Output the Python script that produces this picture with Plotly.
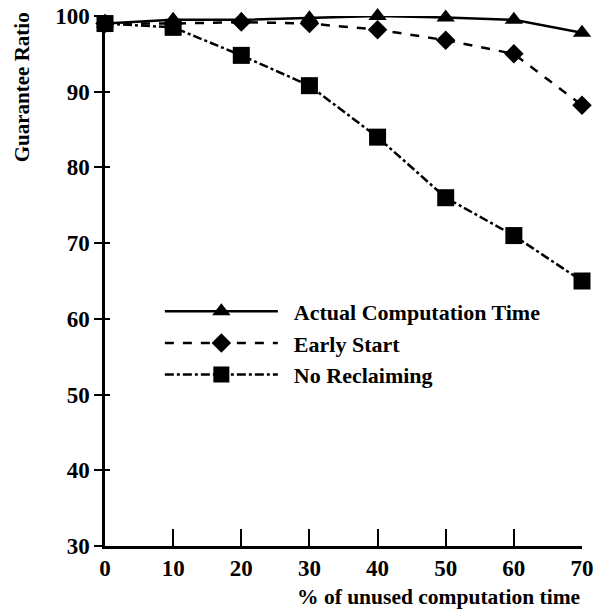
import plotly.graph_objects as go

x_vals = [0, 10, 20, 30, 40, 50, 60, 70]
actual = [99.0, 99.5, 99.5, 99.7, 100.0, 99.8, 99.5, 97.8]
early = [99.0, 99.0, 99.2, 99.0, 98.2, 96.8, 95.0, 88.2]
noreclaim = [99.0, 98.5, 94.8, 90.8, 84.0, 76.0, 71.0, 65.0]
series_names = ["Actual Computation Time", "Early Start", "No Reclaiming"]
x_ticks = [0, 10, 20, 30, 40, 50, 60, 70]
y_ticks = [30, 40, 50, 60, 70, 80, 90, 100]

FONT = "Liberation Serif"
fig = go.Figure()
styles = [
    (actual, "solid", "triangle-up", 16),
    (early, "dash", "diamond", 15),
    (noreclaim, "dashdot", "square", 17),
]
for name, (ys, dash, sym, sz) in zip(series_names, styles):
    fig.add_trace(go.Scatter(
        x=x_vals, y=ys, name="&nbsp;&nbsp;" + name, mode="lines+markers",
        line=dict(color="black", width=2.5, dash=dash),
        marker=dict(symbol=sym, size=sz, color="black"),
        cliponaxis=False,
    ))

tickf = dict(size=23, family=FONT, weight="bold", color="black")
fig.update_layout(
    width=595, height=612,
    margin=dict(l=105, r=13, t=16, b=66),
    paper_bgcolor="white", plot_bgcolor="white",
    font=dict(family=FONT, color="black", size=18),
    showlegend=True,
    legend=dict(x=0.115, y=0.482, xanchor="left", yanchor="top",
                bgcolor="rgba(0,0,0,0)",
                font=dict(size=22, family=FONT, weight="bold"),
                itemwidth=113, tracegroupgap=0),
    xaxis=dict(range=[0, 70], tickvals=x_ticks, ticks="inside", ticklen=17,
               tickwidth=2, tickcolor="black", showline=True, linewidth=2.5,
               linecolor="black", showgrid=False, zeroline=False, automargin=False,
               tickfont=tickf),
    yaxis=dict(range=[30, 100], tickvals=y_ticks, ticks="outside", ticklen=8,
               tickwidth=2, tickcolor="black", showline=True, linewidth=2.5,
               linecolor="black", showgrid=False, zeroline=False, automargin=False,
               tickfont=tickf),
    yaxis2=dict(range=[30, 100], tickvals=y_ticks, ticks="inside", ticklen=5,
                tickwidth=2, tickcolor="black", overlaying="y", side="left",
                automargin=False,
                showticklabels=False, showgrid=False, zeroline=False, showline=False),
    annotations=[
        dict(text="Guarantee Ratio", xref="paper", yref="paper", x=-0.175, y=1.01,
             xanchor="center", yanchor="top", textangle=-90, showarrow=False,
             font=dict(size=21, family=FONT, weight="bold")),
        dict(text="% of unused computation time", xref="paper", yref="paper",
             x=1.0, y=-0.07, xanchor="right", yanchor="top", showarrow=False,
             font=dict(size=21.5, family=FONT, weight="bold")),
    ],
)
fig.add_trace(go.Scatter(x=[None], y=[None], yaxis="y2", showlegend=False))
fig.write_html("out.html")
